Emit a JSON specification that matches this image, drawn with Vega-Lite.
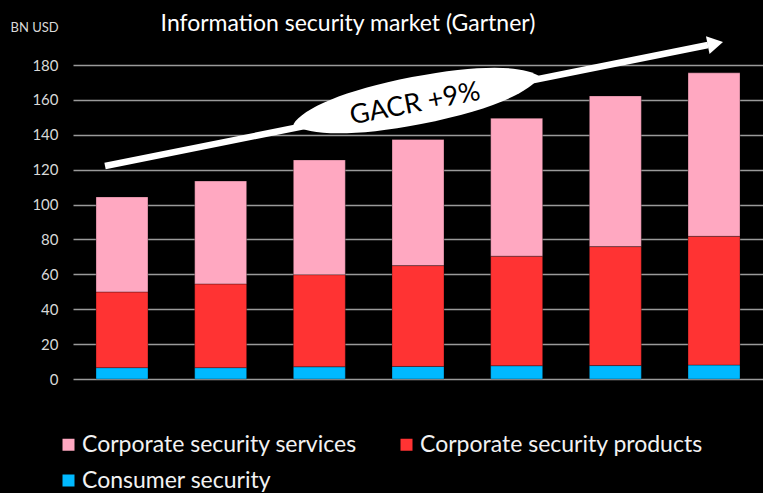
{
  "$schema": "https://vega.github.io/schema/vega-lite/v6.json",
  "width": 690,
  "height": 314,
  "autosize": {"type": "none"},
  "padding": {"left": 73, "top": 65, "right": 0, "bottom": 114},
  "background": "#000000",
  "config": {"view": {"stroke": null}, "font": "Lato"},
  "title": {
    "text": "Information security market (Gartner)",
    "anchor": "middle",
    "dx": -70,
    "offset": -33,
    "fontSize": 23,
    "font": "Lato",
    "fontWeight": "normal",
    "color": "#ffffff",
    "baseline": "alphabetic"
  },
  "layer": [
    {
      "data": {
        "values": [
          {"year": "2014", "segment": "Consumer security", "value": 6.5},
          {"year": "2014", "segment": "Corporate security products", "value": 43.4},
          {"year": "2014", "segment": "Corporate security services", "value": 54.5},
          {"year": "2015", "segment": "Consumer security", "value": 6.5},
          {"year": "2015", "segment": "Corporate security products", "value": 48.0},
          {"year": "2015", "segment": "Corporate security services", "value": 59.0},
          {"year": "2016", "segment": "Consumer security", "value": 7.0},
          {"year": "2016", "segment": "Corporate security products", "value": 52.8},
          {"year": "2016", "segment": "Corporate security services", "value": 65.8},
          {"year": "2017", "segment": "Consumer security", "value": 7.2},
          {"year": "2017", "segment": "Corporate security products", "value": 57.8},
          {"year": "2017", "segment": "Corporate security services", "value": 72.3},
          {"year": "2018", "segment": "Consumer security", "value": 7.6},
          {"year": "2018", "segment": "Corporate security products", "value": 62.8},
          {"year": "2018", "segment": "Corporate security services", "value": 79.1},
          {"year": "2019", "segment": "Consumer security", "value": 7.7},
          {"year": "2019", "segment": "Corporate security products", "value": 68.2},
          {"year": "2019", "segment": "Corporate security services", "value": 86.4},
          {"year": "2020", "segment": "Consumer security", "value": 8.0},
          {"year": "2020", "segment": "Corporate security products", "value": 73.8},
          {"year": "2020", "segment": "Corporate security services", "value": 93.7}
        ]
      },
      "mark": {"type": "bar", "stroke": "#000000", "strokeOpacity": 0.3, "strokeWidth": 1},
      "encoding": {
        "x": {
          "field": "year",
          "type": "ordinal",
          "axis": null,
          "scale": {"paddingInner": 0.473, "paddingOuter": 0.233}
        },
        "y": {
          "field": "value",
          "type": "quantitative",
          "stack": "zero",
          "scale": {"domain": [0, 180], "nice": false},
          "axis": {
            "values": [0, 20, 40, 60, 80, 100, 120, 140, 160, 180],
            "domain": false,
            "ticks": false,
            "labelPadding": 15,
            "labelFontSize": 15,
            "labelFont": "Lato",
            "labelColor": "#D9D9D9",
            "gridColor": "#9A9A9A",
            "gridWidth": 1.5,
            "title": "BN USD",
            "titleAngle": 0,
            "titleAlign": "left",
            "titleBaseline": "middle",
            "titleX": -63,
            "titleY": -38,
            "titleFontSize": 13,
            "titleFont": "Lato",
            "titleFontWeight": "normal",
            "titleColor": "#D9D9D9"
          }
        },
        "color": {
          "field": "segment",
          "type": "nominal",
          "scale": {
            "domain": ["Corporate security services", "Corporate security products", "Consumer security"],
            "range": ["#FFA8C1", "#FF3333", "#00B9FF"]
          },
          "legend": {
            "orient": "none",
            "direction": "horizontal",
            "legendX": -16,
            "legendY": 368,
            "columns": 2,
            "title": null,
            "symbolType": "square",
            "symbolSize": 144,
            "symbolStrokeWidth": 0,
            "labelFontSize": 23,
            "labelFont": "Lato",
            "labelColor": "#F2F2F2",
            "labelOffset": 2,
            "labelLimit": 400,
            "columnPadding": 38,
            "rowPadding": 12
          }
        },
        "order": {"field": "segment", "sort": "ascending"}
      }
    },
    {
      "data": {"values": [{"ax": 0.325, "ay": 122.1}, {"ax": 6.442, "ay": 191.5}]},
      "mark": {"type": "line", "color": "#ffffff", "strokeWidth": 6.5, "strokeCap": "butt"},
      "encoding": {
        "x": {"field": "ax", "type": "quantitative", "scale": {"domain": [0, 7], "nice": false, "zero": false}, "axis": null},
        "y": {"field": "ay", "type": "quantitative", "scale": {"domain": [0, 180], "nice": false}, "axis": null}
      }
    },
    {
      "data": {"values": [{"ax": 3.485, "ay": 159.65}]},
      "mark": {
        "type": "point",
        "filled": true,
        "opacity": 1,
        "color": "#ffffff",
        "strokeWidth": 0,
        "shape": "M-1,0C-0.9,-0.11,-0.552,-0.19,0,-0.19C0.552,-0.19,0.9,-0.11,1,0C0.9,0.11,0.552,0.19,0,0.19C-0.552,0.19,-0.9,0.11,-1,0Z",
        "size": 63001,
        "angle": 349
      },
      "encoding": {
        "x": {"field": "ax", "type": "quantitative", "scale": {"domain": [0, 7], "nice": false, "zero": false}, "axis": null},
        "y": {"field": "ay", "type": "quantitative", "scale": {"domain": [0, 180], "nice": false}, "axis": null}
      }
    },
    {
      "data": {"values": [{"ax": 6.517, "ay": 192.3}]},
      "mark": {
        "type": "point",
        "filled": true,
        "opacity": 1,
        "color": "#ffffff",
        "strokeWidth": 0,
        "shape": "triangle-right",
        "size": 324,
        "angle": 348.7
      },
      "encoding": {
        "x": {"field": "ax", "type": "quantitative", "scale": {"domain": [0, 7], "nice": false, "zero": false}, "axis": null},
        "y": {"field": "ay", "type": "quantitative", "scale": {"domain": [0, 180], "nice": false}, "axis": null}
      }
    },
    {
      "data": {"values": [{"ax": 3.47, "ay": 157.6, "label": "GACR +9%"}]},
      "mark": {
        "type": "text",
        "color": "#000000",
        "font": "Lato",
        "fontSize": 27,
        "angle": 349,
        "align": "center",
        "baseline": "middle"
      },
      "encoding": {
        "x": {"field": "ax", "type": "quantitative", "scale": {"domain": [0, 7], "nice": false, "zero": false}, "axis": null},
        "y": {"field": "ay", "type": "quantitative", "scale": {"domain": [0, 180], "nice": false}, "axis": null},
        "text": {"field": "label"}
      }
    }
  ],
  "resolve": {"scale": {"x": "independent", "y": "independent"}}
}
